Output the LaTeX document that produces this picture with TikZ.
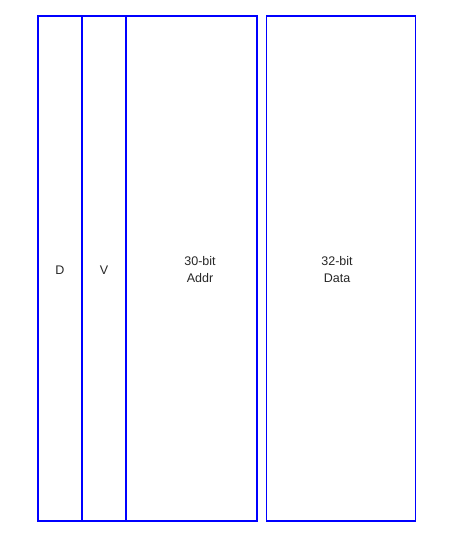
\documentclass[tikz,border=0pt]{standalone}
\usepackage{fontspec}
\setmainfont{Liberation Sans}
\usepackage{tikz}

\tikzset{
  field/.style={draw=blue, line width=1.5pt, rectangle, inner sep=0pt,
    minimum height=505pt},
  fieldtext/.style={align=center, font=\fontsize{12.5}{17}\selectfont, text=black!85}
}

\begin{document}
\begin{tikzpicture}[x=1pt, y=-1pt]
    \useasboundingbox (0,0) rectangle (456,552);
    % Felder der Cache-Zeile:
    \node[field, minimum width=44pt] (dbit) at (60,268.5) {};
    \node[field, minimum width=44pt] (vbit) at (104,268.5) {};
    \node[field, minimum width=131pt] (addr) at (191.5,268.5) {};
    \node[field, minimum width=149pt] (data) at (341,268.5) {};
    % Beschriftungen:
    \node[fieldtext] (dtext) at ([yshift=-1.5pt]dbit.center) {D};
    \node[fieldtext] (vtext) at ([yshift=-1.5pt]vbit.center) {V};
    \node[fieldtext] (addrtext) at ([xshift=8.5pt,yshift=-1.5pt]addr.center) {30-bit\\Addr};
    \node[fieldtext] (datatext) at ([xshift=-4pt,yshift=-1.5pt]data.center) {32-bit\\Data};
\end{tikzpicture}
\end{document}
